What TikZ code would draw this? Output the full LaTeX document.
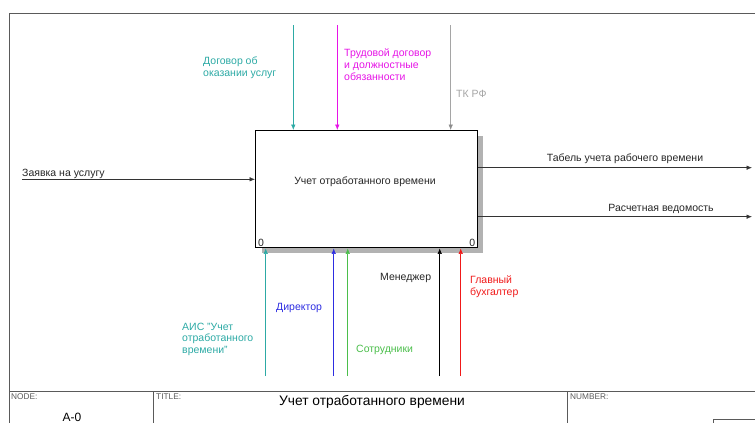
\documentclass[tikz,border=0pt]{standalone}
\usepackage{fontspec}
\setmainfont{Liberation Sans}
\usetikzlibrary{arrows.meta, positioning}

\definecolor{idefteal}{RGB}{45,170,165}
\definecolor{idefmag}{RGB}{230,20,230}
\definecolor{idefgray}{RGB}{165,165,165}
\definecolor{idefblue}{RGB}{45,45,225}
\definecolor{idefgreen}{RGB}{75,190,75}
\definecolor{idefred}{RGB}{240,25,25}
\definecolor{ideframe}{RGB}{90,90,90}

\tikzset{
	lbl/.style={font=\fontsize{10.5}{11.8}\selectfont, text=black!85, inner sep=0, align=left},
	arr/.style={-{Latex[length=5.5pt,width=4.5pt]}, line width=0.6pt},
	tblk/.style={font=\fontsize{8.3}{9}\selectfont, text=black!65, inner sep=0, anchor=west}
}

\begin{document}
\begin{tikzpicture}[x=1pt, y=-1pt]
			\useasboundingbox (0,0) rectangle (755,423);
			\draw[ideframe, line width=0.8pt] (9,423) -- (9,13) -- (755,13);
			\draw[ideframe, line width=0.8pt] (9,391) -- (755,391);
			\draw[ideframe, line width=0.8pt] (153,391) -- (153,423);
			\draw[ideframe, line width=0.8pt] (567,391) -- (567,423);
			\draw[ideframe, line width=0.6pt] (713,423) -- (713,419) -- (755,419);
			\node[tblk] (nodelbl) at (11,397) {NODE:};
			\node[tblk] (titlelbl) at (156,397) {TITLE:};
			\node[tblk] (numlbl) at (570,397) {NUMBER:};
			\node[font=\fontsize{12}{13}\selectfont, inner sep=0] (nodeid) at (72,417) {A-0};
			\node[font=\fontsize{13.8}{15}\selectfont, inner sep=0] (ttl) at (372,402) {Учет отработанного времени};
			\fill[black!30] (262,136) rectangle (483,253);
			\node[draw, fill=white, line width=1.4pt, minimum width=222pt, minimum height=117pt, anchor=north west, inner sep=0] (proc) at (255,130) {};
			\node[lbl] (proctxt) at (365,182) {Учет отработанного времени};
			\node[lbl, anchor=south west] (nl) at ([shift={(3,-2)}]proc.south west) {0};
			\node[lbl, anchor=south east] (nr) at ([shift={(-3,-2)}]proc.south east) {0};
			\coordinate (c1) at (293.3,25);
			\coordinate (c2) at (337.3,25);
			\coordinate (c3) at (450.7,25);
			\draw[arr, idefteal] (c1) -- (c1 |- proc.north);
			\draw[arr, idefmag] (c2) -- (c2 |- proc.north);
			\draw[arr, idefgray, -{Latex[length=5.5pt,width=4.5pt,gray!90]}] (c3) -- (c3 |- proc.north);
			\node[lbl, text=idefteal, anchor=north west] (ctl1) at (203,56.5) {Договор об\\оказании услуг};
			\node[lbl, text=idefmag, anchor=north west] (ctl2) at (344,48.5) {Трудовой договор\\и должностные\\обязанности};
			\node[lbl, text=idefgray, anchor=west] (ctl3) at (456,94) {ТК РФ};
			\coordinate (i1) at (22,179.3);
			\draw[arr, black!80] (i1) -- (i1 -| proc.west);
			\node[lbl, anchor=base west] (in1) at (22,176.5) {Заявка на услугу};
			\coordinate (o1) at (752,167.7);
			\coordinate (o2) at (752,216.7);
			\draw[arr, black!80] (o1 -| proc.east) -- (o1);
			\draw[arr, black!80] (o2 -| proc.east) -- (o2);
			\node[lbl] (out1) at (625,159) {Табель учета рабочего времени};
			\node[lbl] (out2) at (661,209) {Расчетная ведомость};
			\coordinate (m1) at (265.7,376);
			\coordinate (m2) at (333.7,376);
			\coordinate (m3) at (347.7,376);
			\coordinate (m4) at (439.7,376);
			\coordinate (m5) at (460.7,376);
			\draw[arr, idefteal] (m1) -- (m1 |- proc.south);
			\draw[arr, idefblue] (m2) -- (m2 |- proc.south);
			\draw[arr, idefgreen] (m3) -- (m3 |- proc.south);
			\draw[arr, black] (m4) -- (m4 |- proc.south);
			\draw[arr, idefred] (m5) -- (m5 |- proc.south);
			\node[lbl, text=idefteal, anchor=north west] (mech1) at (182,322.5) {АИС "Учет\\отработанного\\времени"};
			\node[lbl, text=idefblue, anchor=west] (mech2) at (276,308) {Директор};
			\node[lbl, text=idefgreen, anchor=west] (mech3) at (356,350) {Сотрудники};
			\node[lbl, anchor=west] (mech4) at (380,278) {Менеджер};
			\node[lbl, text=idefred, anchor=north west] (mech5) at (470,275.5) {Главный\\бухгалтер};
		\end{tikzpicture}
\end{document}
